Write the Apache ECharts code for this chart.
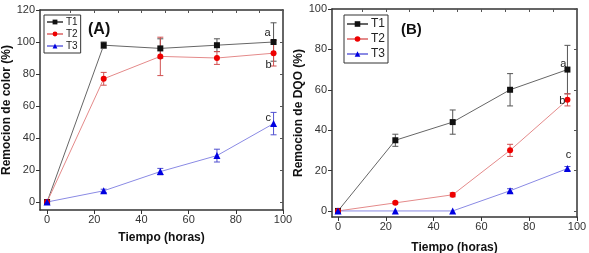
<!DOCTYPE html>
<html>
<head>
<meta charset="utf-8">
<script src="https://cdn.jsdelivr.net/npm/echarts@6/dist/echarts.min.js"></script>
<style>
    html, body { margin: 0; padding: 0; background: #fff; }
    #chart { width: 589px; height: 253px; }
</style>
</head>
<body>
<div id="chart"></div>
<script>
// tiempo de muestreo (horas)
var hours = [0, 24, 48, 72, 96];
var seriesNames = ['T1', 'T2', 'T3'];
var letters = ['a', 'b', 'c'];

// (A) remocion de color (%)
var colorT1 = [0, 98, 96, 98, 100];
var colorT2 = [0, 77, 91, 90, 93];
var colorT3 = [0, 7, 19, 29, 49];
var colorT1Err = [0, 2, 6, 4, 12];
var colorT2Err = [0, 4, 12, 4, 8];
var colorT3Err = [0, 1, 2, 4, 7];

// (B) remocion de DQO (%)
var dqoT1 = [0, 35, 44, 60, 70];
var dqoT2 = [0, 4, 8, 30, 55];
var dqoT3 = [0, 0, 0, 10, 21];
var dqoT1Err = [0, 3, 6, 8, 12];
var dqoT2Err = [0, 0.5, 1, 3, 3];
var dqoT3Err = [0, 0, 0, 1, 1];

var yTicksA = [0, 20, 40, 60, 80, 100, 120];
var yTicksB = [0, 20, 40, 60, 80, 100];
var xTicks = [0, 20, 40, 60, 80, 100];

var symbols = ['rect', 'circle', 'triangle'];
var symbolColors = ['#111', '#e00', '#0000e0'];
var lineColors = ['#666', '#e48a8a', '#8a8ae4'];
var errColors = ['#555', '#d05050', '#5050d0'];
var fontFam = '"Liberation Sans", Arial, sans-serif';

var myChart = echarts.init(document.getElementById('chart'));

function pairs(vals) {
    return vals.map(function (v, i) { return [hours[i], v]; });
}

function bottomX(idx, min) {
    return {
        gridIndex: idx, type: 'value', min: min, max: 100, position: 'bottom',
        name: 'Tiempo (horas)', nameLocation: 'middle', nameGap: idx === 0 ? 22 : 25,
        nameTextStyle: { fontFamily: fontFam, fontWeight: 'bold', fontSize: 12, color: '#111' },
        axisLine: { onZero: false, lineStyle: { color: '#333', width: 1.5 } },
        axisTick: { inside: false, length: 4, customValues: xTicks, lineStyle: { color: '#333' } },
        axisLabel: { customValues: xTicks, fontFamily: fontFam, fontSize: 11, color: '#333', margin: 4 },
        splitLine: { show: false }
    };
}
function topX(idx, min) {
    return {
        gridIndex: idx, type: 'value', min: min, max: 100, position: 'top',
        axisLine: { onZero: false, lineStyle: { color: '#333', width: 1.5 } },
        axisTick: { inside: true, length: 3, customValues: [10, 20, 30, 40, 50, 60, 70, 80, 90], lineStyle: { color: '#555' } },
        axisLabel: { show: false },
        splitLine: { show: false }
    };
}
function leftY(idx, min, max, ticks, name, gap) {
    return {
        gridIndex: idx, type: 'value', min: min, max: max, position: 'left',
        name: name, nameLocation: 'middle', nameGap: gap,
        nameTextStyle: { fontFamily: fontFam, fontWeight: 'bold', fontSize: 12, color: '#111' },
        axisLine: { onZero: false, lineStyle: { color: '#333', width: 1.5 } },
        axisTick: { inside: false, length: 4, customValues: ticks, lineStyle: { color: '#333' } },
        axisLabel: { customValues: ticks, fontFamily: fontFam, fontSize: 11, color: '#333', margin: 5 },
        splitLine: { show: false }
    };
}
function rightY(idx, min, max, ticks) {
    return {
        gridIndex: idx, type: 'value', min: min, max: max, position: 'right',
        axisLine: { onZero: false, lineStyle: { color: '#333', width: 1.5 } },
        axisTick: { inside: true, length: 3, customValues: ticks, lineStyle: { color: '#555' } },
        axisLabel: { show: false },
        splitLine: { show: false }
    };
}

// barras de error con renderItem
function errorSeries(name, axisIdx, vals, errs, color) {
    var data = vals.map(function (v, i) { return [hours[i], v - errs[i], v + errs[i]]; })
        .filter(function (d) { return d[2] - d[1] > 0; });
    return {
        name: name + '-err', type: 'custom', xAxisIndex: axisIdx, yAxisIndex: axisIdx, z: 1,
        renderItem: function (params, api) {
            var x = api.value(0);
            var lo = api.coord([x, api.value(1)]);
            var hi = api.coord([x, api.value(2)]);
            var w = 3;
            var st = { stroke: color, lineWidth: 1 };
            return {
                type: 'group',
                children: [
                    { type: 'line', shape: { x1: lo[0], y1: lo[1], x2: hi[0], y2: hi[1] }, style: st },
                    { type: 'line', shape: { x1: lo[0] - w, y1: lo[1], x2: lo[0] + w, y2: lo[1] }, style: st },
                    { type: 'line', shape: { x1: hi[0] - w, y1: hi[1], x2: hi[0] + w, y2: hi[1] }, style: st }
                ]
            };
        },
        encode: { x: 0, y: [1, 2] },
        data: data,
        silent: true
    };
}

function lineSeries(i, axisIdx, vals, letterPos, letterOffset) {
    var data = pairs(vals);
    var last = data.length - 1;
    data[last] = {
        value: data[last],
        label: {
            show: true, formatter: letters[i], position: letterPos, offset: letterOffset,
            fontFamily: fontFam, fontSize: 11, color: '#222'
        }
    };
    return {
        name: seriesNames[i], type: 'line', xAxisIndex: axisIdx, yAxisIndex: axisIdx, z: 3,
        symbol: symbols[i], symbolSize: i === 2 ? 7 : 6,
        itemStyle: { color: symbolColors[i] },
        lineStyle: { color: lineColors[i], width: 1 },
        data: data
    };
}

var option = {
    animation: false,
    textStyle: { fontFamily: fontFam },
    title: [
        { text: '(A)', left: 83, top: 17, textStyle: { fontFamily: fontFam, fontWeight: 'bold', fontSize: 16, color: '#111' } },
        { text: '(B)', left: 396, top: 17, textStyle: { fontFamily: fontFam, fontWeight: 'bold', fontSize: 15, color: '#111' } }
    ],
    legend: [
        {
            data: seriesNames, left: 44, top: 15, orient: 'vertical', itemGap: 2, padding: [2, 3, 2, 2],
            itemWidth: 16, itemHeight: 6, borderColor: '#333', borderWidth: 1, borderRadius: 0,
            textStyle: { fontFamily: fontFam, fontSize: 10, color: '#222', padding: [0, 0, 0, -2] }
        },
        {
            data: seriesNames, left: 344, top: 15, orient: 'vertical', itemGap: 3, padding: [3, 3, 3, 2],
            itemWidth: 21, itemHeight: 7, borderColor: '#333', borderWidth: 1, borderRadius: 0,
            textStyle: { fontFamily: fontFam, fontSize: 12, color: '#222', padding: [0, 0, 0, -2] }
        }
    ],
    grid: [
        { left: 40, top: 10, right: 306, bottom: 43, outerBoundsMode: 'none' },
        { left: 332, top: 9, right: 12, bottom: 36, outerBoundsMode: 'none' }
    ],
    xAxis: [bottomX(0, -3), bottomX(1, -2.5), topX(0, -3), topX(1, -2.5)],
    yAxis: [
        leftY(0, -5, 120, yTicksA, 'Remocion de color (%)', 27),
        leftY(1, -3, 100, yTicksB, 'Remocion de DQO (%)', 27),
        rightY(0, -5, 120, yTicksA),
        rightY(1, -3, 100, yTicksB)
    ],
    series: [
        errorSeries('A1', 0, colorT1, colorT1Err, errColors[0]),
        errorSeries('A2', 0, colorT2, colorT2Err, errColors[1]),
        errorSeries('A3', 0, colorT3, colorT3Err, errColors[2]),
        errorSeries('B1', 1, dqoT1, dqoT1Err, errColors[0]),
        errorSeries('B2', 1, dqoT2, dqoT2Err, errColors[1]),
        errorSeries('B3', 1, dqoT3, dqoT3Err, errColors[2]),
        lineSeries(0, 0, colorT1, 'left', [5, -9]),
        lineSeries(1, 0, colorT2, 'left', [6, 12]),
        lineSeries(2, 0, colorT3, 'left', [6, -6]),
        lineSeries(0, 1, dqoT1, 'left', [7, -6]),
        lineSeries(1, 1, dqoT2, 'left', [6, 1]),
        lineSeries(2, 1, dqoT3, 'top', [1, 0])
    ]
};
myChart.setOption(option);
</script>
</body>
</html>
